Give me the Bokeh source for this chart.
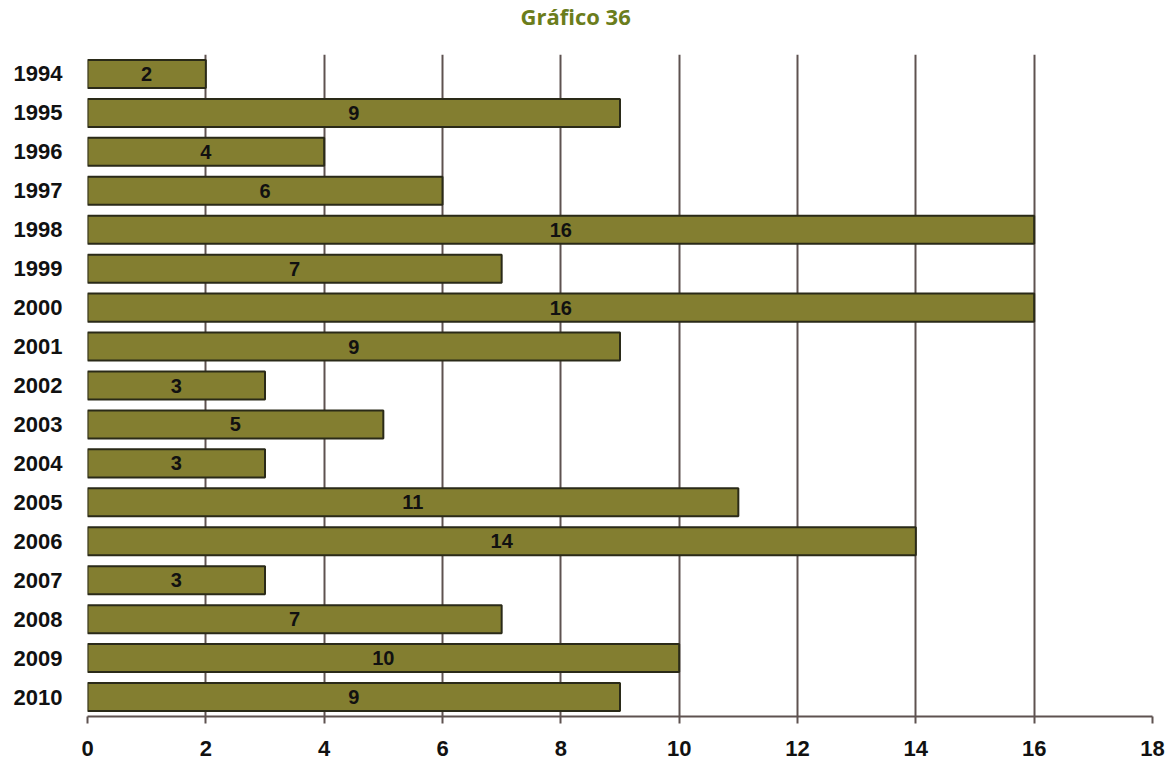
from bokeh.plotting import figure
from bokeh.models import ColumnDataSource, FixedTicker, Range1d, Title
from bokeh.core.properties import value
from bokeh.embed import file_html
from bokeh.resources import INLINE

years = ["1994", "1995", "1996", "1997", "1998", "1999", "2000", "2001", "2002",
         "2003", "2004", "2005", "2006", "2007", "2008", "2009", "2010"]
counts = [2, 9, 4, 6, 16, 7, 16, 9, 3, 5, 3, 11, 14, 3, 7, 10, 9]
x_ticks = [0, 2, 4, 6, 8, 10, 12, 14, 16, 18]

src = ColumnDataSource(dict(
    year=years,
    count=counts,
    mid=[c / 2 for c in counts],
    label=[str(c) for c in counts],
))

p = figure(
    width=1168, height=766,
    y_range=list(reversed(years)),
    x_range=Range1d(0, 18),
    output_backend="svg", toolbar_location=None,
    min_border_left=87, min_border_right=16, min_border_top=0,
    min_border_bottom=50,
)

spacer = Title(text=" ", text_font_size="10px", standoff=9, text_color="white")
main_title = Title(text="Gráfico 36", text_font="Open Sans", text_font_style="bold",
                   text_font_size="22px", text_color="#6b7d1c", align="left",
                   offset=433, standoff=0, vertical_align="top")
p.add_layout(spacer, "above")
p.add_layout(main_title, "above")

p.outline_line_color = None
p.background_fill_color = "white"
p.border_fill_color = "white"

p.hbar(y="year", right="count", left=0, height=0.72, source=src,
       fill_color="#837e30", line_color="#2a2a18", line_width=2)

p.text(x="mid", y="year", text="label", source=src,
       text_align="center", text_baseline="middle",
       text_font=value("Liberation Sans"), text_font_style="bold",
       text_font_size="20px", text_color="#111111")

p.xaxis.ticker = FixedTicker(ticks=x_ticks)
p.xaxis.axis_line_color = "#5e5250"
p.xaxis.axis_line_width = 2
p.xaxis.major_tick_line_color = "#5e5250"
p.xaxis.major_tick_line_width = 2
p.xaxis.major_tick_out = 7
p.xaxis.major_tick_in = 0
p.xaxis.minor_tick_line_color = None
p.xaxis.major_label_text_font = "Liberation Sans"
p.xaxis.major_label_text_font_style = "bold"
p.xaxis.major_label_text_font_size = "22px"
p.xaxis.major_label_text_color = "#111111"
p.xaxis.major_label_standoff = 17

p.yaxis.axis_line_color = None
p.yaxis.major_tick_line_color = None
p.yaxis.major_label_text_font = "Liberation Sans"
p.yaxis.major_label_text_font_style = "bold"
p.yaxis.major_label_text_font_size = "22px"
p.yaxis.major_label_text_color = "#111111"
p.yaxis.major_label_standoff = 19

p.xgrid.ticker = FixedTicker(ticks=x_ticks)
p.xgrid.grid_line_color = "#5e5250"
p.xgrid.grid_line_width = 2
p.ygrid.grid_line_color = None

open("out.html", "w").write(file_html(p, INLINE))
